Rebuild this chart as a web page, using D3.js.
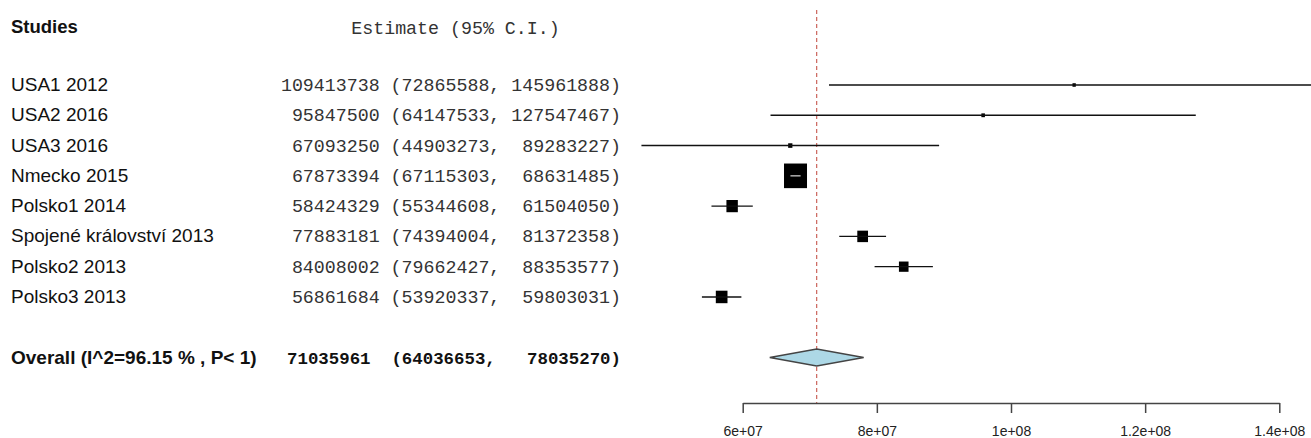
<!DOCTYPE html>
<html>
<head>
<meta charset="utf-8">
<script src="https://cdn.jsdelivr.net/npm/d3@7"></script>
<style>
  body { margin: 0; background: #fff; }
  .lab { font-family: "Liberation Sans", Arial, sans-serif; font-size: 19px; fill: #111; }
  .num { font-family: "Liberation Mono", "Courier New", monospace; font-size: 18.3px; fill: #333; white-space: pre; }
  .axis text { font-family: "Liberation Sans", Arial, sans-serif; font-size: 14px; fill: #222; }
  .axis path, .axis line { stroke: #444; stroke-width: 1.5; }
</style>
</head>
<body>
<div id="forest"></div>
<script>
// study data
let studies = ["USA1 2012", "USA2 2016", "USA3 2016", "Nmecko 2015", "Polsko1 2014",
  "Spojené království 2013", "Polsko2 2013", "Polsko3 2013"];
let estimate = [109413738, 95847500, 67093250, 67873394, 58424329, 77883181, 84008002, 56861684];
let lower = [72865588, 64147533, 44903273, 67115303, 55344608, 74394004, 79662427, 53920337];
let upper = [145961888, 127547467, 89283227, 68631485, 61504050, 81372358, 88353577, 59803031];

let overall_est = 71035961, overall_lo = 64036653, overall_hi = 78035270;
let overall_label = "Overall (I^2=96.15 % , P< 1)";

let tick_values = [6e7, 8e7, 1e8, 1.2e8, 1.4e8];
let tick_labels = ["6e+07", "8e+07", "1e+08", "1.2e+08", "1.4e+08"];

let width = 1311, height = 438;
let num_right = 621; // right edge of estimate column
let overall_row = 9;

let svg = d3.select("#forest").append("svg")
  .attr("width", width)
  .attr("height", height);

let xScale = d3.scaleLinear().domain([6e7, 1.4e8]).range([742.7, 1279.3]);
let yScale = d3.scaleLinear().domain([0, overall_row]).range([85, 357.5]);

// box side from precision (1/SE)
let se = lower.map((l, i) => (upper[i] - l) / 3.92);
let prec = se.map(s => 1 / s);
let boxScale = d3.scaleSqrt().domain([0, d3.max(prec)]).range([0, 23]);

function fmt(n, w) {
  let s = String(n);
  while (s.length < w) s = " " + s;
  return s;
}

// header
svg.append("text").attr("class", "lab")
  .attr("x", 11).attr("y", 33)
  .style("font-weight", "bold")
  .style("font-size", "18.5px")
  .text("Studies");
svg.append("text").attr("class", "num")
  .attr("x", 455.5).attr("y", 34)
  .style("text-anchor", "middle")
  .text("Estimate (95% C.I.)");

// study labels + numbers
svg.selectAll("text.study").data(studies).enter()
  .append("text").attr("class", "lab study")
  .attr("x", 11)
  .attr("y", (d, i) => yScale(i) + 6)
  .text(d => d);

svg.selectAll("text.est").data(studies).enter()
  .append("text").attr("class", "num est")
  .attr("x", num_right)
  .attr("y", (d, i) => yScale(i) + 6)
  .style("text-anchor", "end")
  .text((d, i) => fmt(estimate[i], 9) + " (" + lower[i] + ", " + fmt(upper[i], 9) + ")");

svg.append("text").attr("class", "lab")
  .attr("x", 11).attr("y", yScale(overall_row) + 6)
  .style("font-weight", "bold")
  .text(overall_label);
svg.append("text").attr("class", "num")
  .attr("x", num_right).attr("y", yScale(overall_row) + 6)
  .style("text-anchor", "end")
  .style("font-weight", "bold")
  .style("font-size", "17.4px")
  .style("fill", "#111")
  .text(overall_est + "  (" + overall_lo + ",   " + overall_hi + ")");

// reference line at overall estimate
svg.append("line")
  .attr("x1", xScale(overall_est)).attr("x2", xScale(overall_est))
  .attr("y1", 10).attr("y2", 403)
  .attr("stroke", "#c0443a")
  .attr("stroke-width", 1)
  .attr("stroke-dasharray", "4,3");

// boxes
svg.selectAll("rect.box").data(studies).enter()
  .append("rect").attr("class", "box")
  .attr("x", (d, i) => xScale(estimate[i]) - boxScale(prec[i]) / 2)
  .attr("y", (d, i) => yScale(i) - boxScale(prec[i]) * 1.07 / 2)
  .attr("width", (d, i) => boxScale(prec[i]))
  .attr("height", (d, i) => boxScale(prec[i]) * 1.07)
  .attr("fill", "black");

// CI lines, white when narrower than the box
svg.selectAll("line.ci").data(studies).enter()
  .append("line").attr("class", "ci")
  .attr("x1", (d, i) => xScale(lower[i]))
  .attr("x2", (d, i) => xScale(upper[i]))
  .attr("y1", (d, i) => yScale(i))
  .attr("y2", (d, i) => yScale(i))
  .attr("stroke", (d, i) => (xScale(upper[i]) - xScale(lower[i]) < boxScale(prec[i])) ? "#bbb" : "#111")
  .attr("stroke-width", 1.4);

// overall diamond
let yc = yScale(overall_row);
svg.append("path")
  .attr("d", d3.line()([
    [xScale(overall_lo), yc], [xScale(overall_est), yc - 8.5],
    [xScale(overall_hi), yc], [xScale(overall_est), yc + 8.5]]) + "Z")
  .attr("fill", "#add8e6")
  .attr("stroke", "#444")
  .attr("stroke-width", 1.5);

// x axis
let xAxis = d3.axisBottom(xScale)
  .tickValues(tick_values)
  .tickFormat((d, i) => tick_labels[i])
  .tickSize(10)
  .tickSizeOuter(0)
  .tickPadding(13.5);

svg.append("g").attr("class", "axis")
  .attr("transform", "translate(0,403)")
  .call(xAxis)
  .call(g => g.selectAll("text").attr("font-family", null).attr("font-size", null));
</script>
</body>
</html>
